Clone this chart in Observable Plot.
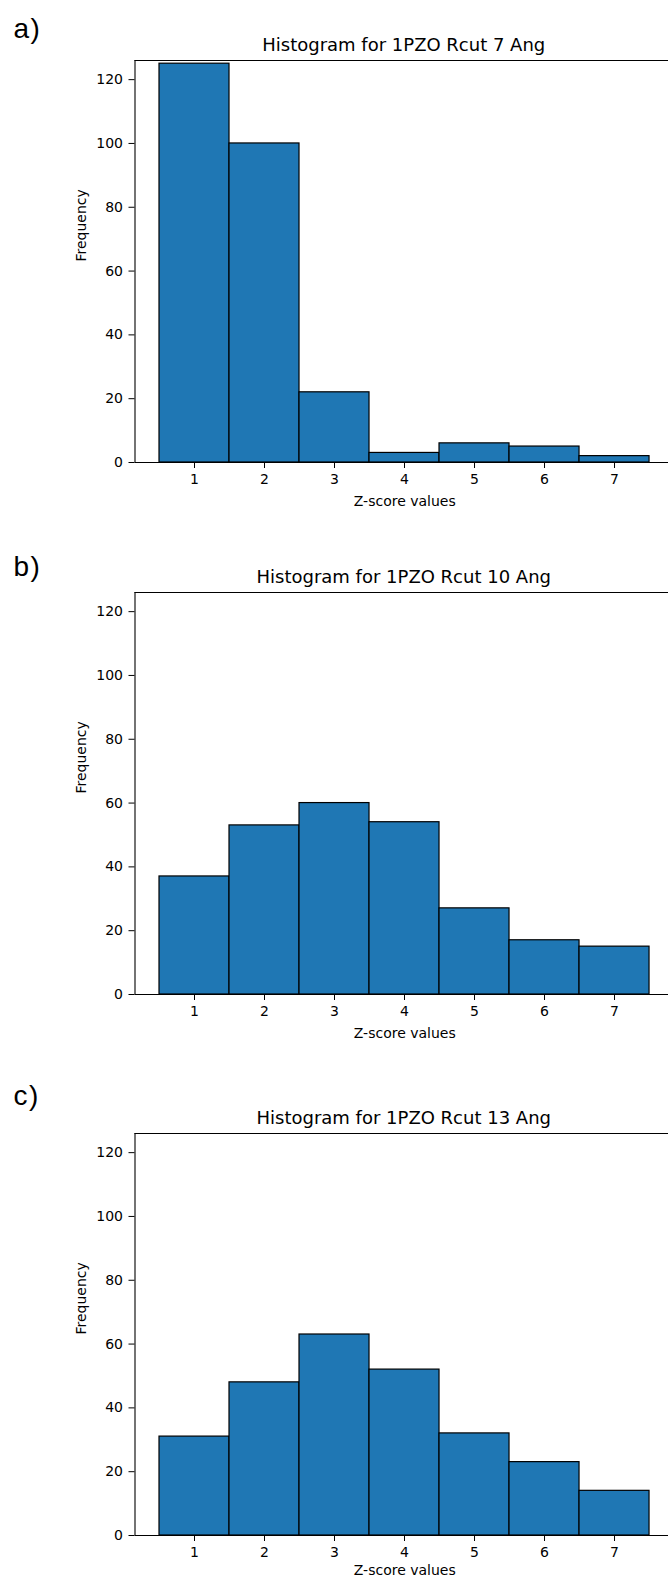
<!DOCTYPE html>
<html><head><meta charset="utf-8">
<script src="https://cdn.jsdelivr.net/npm/d3@7"></script>
<script src="https://cdn.jsdelivr.net/npm/@observablehq/plot@0.6"></script>
<style>
html,body{margin:0;padding:0;background:#fff;}
#page{position:relative;width:668px;height:1579px;overflow:hidden;background:#fff;}
.panel{position:absolute;left:0;}
</style></head><body><div id="page"></div>
<script>
// ---- data ----
const zScores = [1, 2, 3, 4, 5, 6, 7];
const yTicks = [0, 20, 40, 60, 80, 100, 120];
const freqRcut7 = [125, 100, 22, 3, 6, 5, 2];
const freqRcut10 = [37, 53, 60, 54, 27, 17, 15];
const freqRcut13 = [31, 48, 63, 52, 32, 23, 14];
const panelLabels = ["a)", "b)", "c)"];
const titles = ["Histogram for 1PZO Rcut 7 Ang", "Histogram for 1PZO Rcut 10 Ang", "Histogram for 1PZO Rcut 13 Ang"];
const xLabel = "Z-score values";
const yLabel = "Frequency";

// ---- layout ----
const series = [freqRcut7, freqRcut10, freqRcut13];
const panelTops = [0, 532, 1073];
const labelDys = [-23, -17, -29];
const xLabelDys = [43, 43, 39];

const page = document.getElementById("page");

series.forEach((values, i) => {
  const rows = zScores.map((z, k) => ({z, n: values[k]}));
  const fig = Plot.plot({
    width: 668, height: 512,
    marginTop: 60, marginBottom: 50, marginLeft: 134.5, marginRight: 0,
    x: {type: "linear", domain: [0.15, 7.771], ticks: zScores, tickSize: 6, tickPadding: 6, label: null},
    y: {domain: [0, 126], ticks: yTicks, tickSize: 6, tickPadding: 6, label: null},
    style: {fontFamily: "DejaVu Sans", fontSize: "14px", color: "#000", background: "#fff", overflow: "visible"},
    marks: [
      Plot.rectY(rows, {x1: d => d.z - 0.5, x2: d => d.z + 0.5, y: "n", fill: "#1f77b4", stroke: "#000", strokeWidth: 1.2}),
      Plot.ruleY([0, 126], {stroke: "#000", strokeWidth: 1.1}),
      Plot.ruleX([0.15], {stroke: "#000", strokeWidth: 1.1}),
      Plot.text([titles[i]], {text: d => d, frameAnchor: "top", dx: 2, dy: -10, lineAnchor: "bottom", fontSize: 18, fill: "#000"}),
      Plot.text([xLabel], {text: d => d, frameAnchor: "bottom", dx: 3, dy: xLabelDys[i], lineAnchor: "bottom", fontSize: 14, fill: "#000"}),
      Plot.text([yLabel], {text: d => d, frameAnchor: "left", dx: -49, rotate: -90, lineAnchor: "bottom", fontSize: 14, fill: "#000"}),
      Plot.text([panelLabels[i]], {text: d => d, frameAnchor: "top-left", dx: -121.5, dy: labelDys[i], textAnchor: "start", lineAnchor: "bottom", fontSize: 28, fontFamily: "Liberation Sans", fill: "#000"})
    ]
  });
  fig.classList.add("panel");
  fig.style.top = panelTops[i] + "px";
  page.appendChild(fig);
  fig.querySelectorAll("text").forEach(t => {
    if (panelLabels.includes(t.textContent)) t.style.letterSpacing = "1.5px";
  });
});
</script>
</body></html>
